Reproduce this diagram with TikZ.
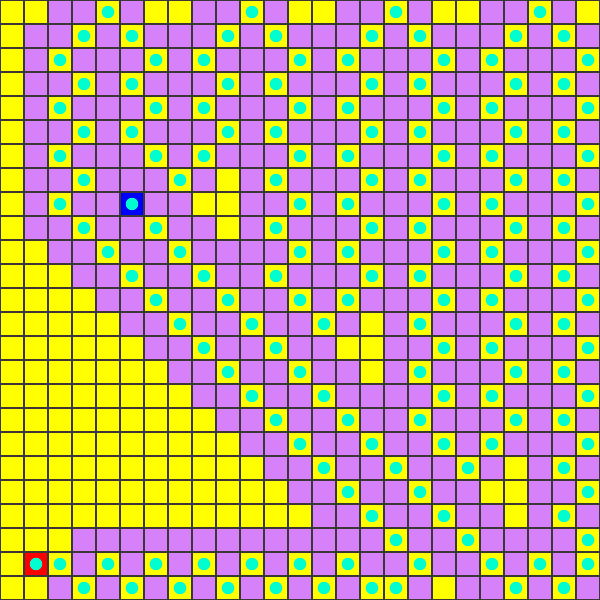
\documentclass[tikz,border=0pt]{standalone}
\usepackage{tikz}
\definecolor{lemon}{HTML}{FFFF00}
\definecolor{lilac}{HTML}{D680FA}
\definecolor{aqua}{HTML}{00FFD0}
\definecolor{ruby}{HTML}{FF0000}
\definecolor{royal}{HTML}{0000FF}
\definecolor{lattice}{HTML}{3C3737}
\tikzset{
 tileY/.pic={\fill[lemon] (0,0) rectangle (1,1);},
 tileP/.pic={\fill[lilac] (0,0) rectangle (1,1);},
 tileD/.pic={\fill[lemon] (0,0) rectangle (1,1); \fill[aqua] (.5,.5) circle (.26);},
 tileR/.pic={\fill[ruby] (0,0) rectangle (1,1); \fill[aqua] (.5,.5) circle (.26);},
 tileB/.pic={\fill[royal] (0,0) rectangle (1,1); \fill[aqua] (.5,.5) circle (.26);},
}
\begin{document}
\begin{tikzpicture}[x=.6cm,y=-.6cm]
 \useasboundingbox (0,0) rectangle (25,25);
 \foreach \row [count=\r from 0] in {
  {Y,Y,P,P,D,P,Y,Y,P,P,D,P,Y,Y,P,P,D,P,Y,Y,P,P,D,P,Y},
  {Y,P,P,D,P,D,P,P,P,D,P,D,P,P,P,D,P,D,P,P,P,D,P,D,P},
  {Y,P,D,P,P,P,D,P,D,P,P,P,D,P,D,P,P,P,D,P,D,P,P,P,D},
  {Y,P,P,D,P,D,P,P,P,D,P,D,P,P,P,D,P,D,P,P,P,D,P,D,P},
  {Y,P,D,P,P,P,D,P,D,P,P,P,D,P,D,P,P,P,D,P,D,P,P,P,D},
  {Y,P,P,D,P,D,P,P,P,D,P,D,P,P,P,D,P,D,P,P,P,D,P,D,P},
  {Y,P,D,P,P,P,D,P,D,P,P,P,D,P,D,P,P,P,D,P,D,P,P,P,D},
  {Y,P,P,D,P,P,P,D,P,Y,P,D,P,P,P,D,P,D,P,P,P,D,P,D,P},
  {Y,P,D,P,P,B,P,P,Y,Y,P,P,D,P,D,P,P,P,D,P,D,P,P,P,D},
  {Y,P,P,D,P,P,D,P,P,Y,P,D,P,P,P,D,P,D,P,P,P,D,P,D,P},
  {Y,Y,P,P,D,P,P,D,P,P,P,P,D,P,D,P,P,P,D,P,D,P,P,P,D},
  {Y,Y,Y,P,P,D,P,P,D,P,P,D,P,P,P,D,P,D,P,P,P,D,P,D,P},
  {Y,Y,Y,Y,P,P,D,P,P,D,P,P,D,P,D,P,P,P,D,P,D,P,P,P,D},
  {Y,Y,Y,Y,Y,P,P,D,P,P,D,P,P,D,P,Y,P,D,P,P,P,D,P,D,P},
  {Y,Y,Y,Y,Y,Y,P,P,D,P,P,D,P,P,Y,Y,P,P,D,P,D,P,P,P,D},
  {Y,Y,Y,Y,Y,Y,Y,P,P,D,P,P,D,P,P,Y,P,D,P,P,P,D,P,D,P},
  {Y,Y,Y,Y,Y,Y,Y,Y,P,P,D,P,P,D,P,P,P,P,D,P,D,P,P,P,D},
  {Y,Y,Y,Y,Y,Y,Y,Y,Y,P,P,D,P,P,D,P,P,D,P,P,P,D,P,D,P},
  {Y,Y,Y,Y,Y,Y,Y,Y,Y,Y,P,P,D,P,P,D,P,P,D,P,D,P,P,P,D},
  {Y,Y,Y,Y,Y,Y,Y,Y,Y,Y,Y,P,P,D,P,P,D,P,P,D,P,Y,P,D,P},
  {Y,Y,Y,Y,Y,Y,Y,Y,Y,Y,Y,Y,P,P,D,P,P,D,P,P,Y,Y,P,P,D},
  {Y,Y,Y,Y,Y,Y,Y,Y,Y,Y,Y,Y,Y,P,P,D,P,P,D,P,P,Y,P,D,P},
  {Y,Y,Y,P,P,P,P,P,P,P,P,P,P,P,P,P,D,P,P,D,P,P,P,P,D},
  {Y,R,D,P,D,P,D,P,D,P,D,P,D,P,D,P,P,D,P,P,D,P,D,P,D},
  {Y,Y,P,D,P,D,P,D,P,D,P,D,P,D,P,D,D,P,Y,P,P,D,P,D,P}}{
  \foreach \t [count=\c from 0] in \row
   \pic at (\c,\r) {tile\t};}
 \draw[lattice,line width=1.8pt,step=.6cm] (0,0) grid (25,25);
\end{tikzpicture}
\end{document}
